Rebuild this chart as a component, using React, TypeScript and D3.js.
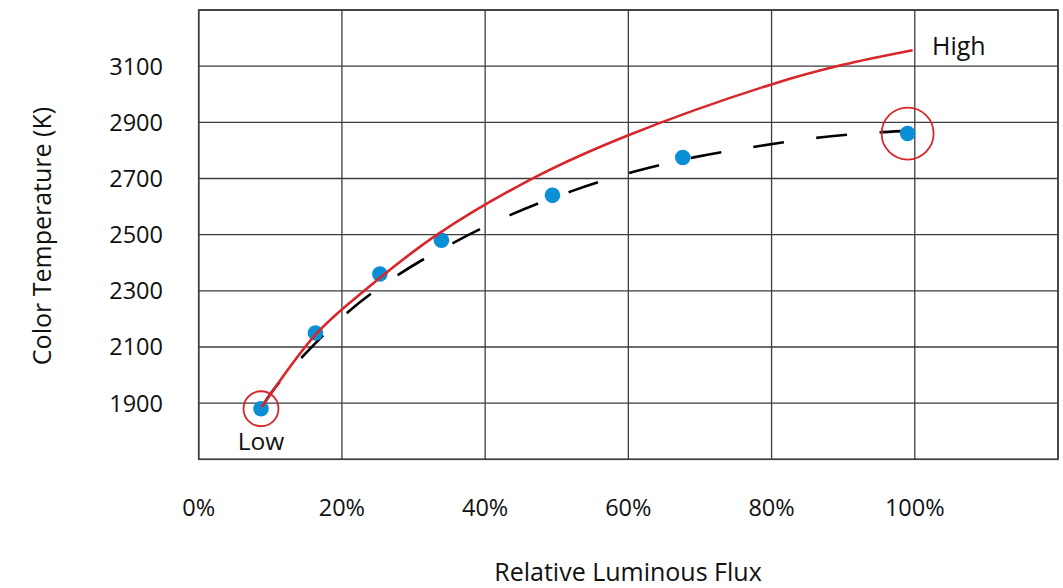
import React from "react";
import * as d3 from "d3";

// Measured data points (blue dots)
const fluxPct = [8.7, 16.3, 25.3, 33.9, 49.4, 67.6, 99.0];
const colorTempK = [1880, 2150, 2360, 2480, 2640, 2775, 2860];

// Red solid curve
const redX = [8.8, 16.5, 23.2, 33.3, 47.4, 60.0, 80.1, 89.8, 99.7];
const redY = [1886, 2149, 2302, 2500, 2710, 2854, 3036, 3104, 3157];

// Black dashed curve
const dashX = [8.8, 11.2, 20.7, 27.8, 35.5, 43.8, 52.1, 60.6, 69.3, 78.1, 87.0, 95.6, 100.5];
const dashY = [1886, 1972, 2221, 2356, 2470, 2573, 2655, 2723, 2776, 2815, 2847, 2865, 2872];

const xTicks = [0, 20, 40, 60, 80, 100];
const xGrid = [0, 20, 40, 60, 80, 100, 120];
const yTicks = [1900, 2100, 2300, 2500, 2700, 2900, 3100];

const xTitle = "Relative Luminous Flux";
const yTitle = "Color Temperature (K)";
const lowLabel = "Low";
const highLabel = "High";

const W = 1063;
const H = 588;
const L = 198.7, R = 1058, T = 10, B = 459.3;

export default function App() {
  const x = d3.scaleLinear().domain([0, 120]).range([L, R]);
  const y = d3.scaleLinear().domain([1700, 3300]).range([B, T]);
  const line = d3
    .line<[number, number]>()
    .x((d) => x(d[0]))
    .y((d) => y(d[1]))
    .curve(d3.curveCatmullRom.alpha(0.5));

  const redPts: [number, number][] = redX.map((v, i) => [v, redY[i]]);
  const dashPts: [number, number][] = dashX.map((v, i) => [v, dashY[i]]);
  const font = "'Open Sans', 'Noto Sans', sans-serif";
  const gridColor = "#3d3d3d";
  const red = "#d8262b";
  const blue = "#0a8ed5";

  const nLow = 0;
  const nHigh = fluxPct.length - 1;

  return (
    <svg
      width={W}
      height={H}
      style={{ position: "absolute", left: 0, top: 0, background: "#fff" }}
      fontFamily={font}
    >
      <rect x={0} y={0} width={W} height={H} fill="#fff" />
      {/* grid */}
      {xGrid.map((t) => (
        <line key={"gx" + t} x1={x(t)} x2={x(t)} y1={T} y2={B} stroke={gridColor} strokeWidth={1.3} />
      ))}
      {[1700, ...yTicks, 3300].map((t) => (
        <line key={"gy" + t} x1={L} x2={R} y1={y(t)} y2={y(t)} stroke={gridColor} strokeWidth={1.3} />
      ))}
      <rect x={L} y={T} width={R - L} height={B - T} fill="none" stroke={gridColor} strokeWidth={1.6} />

      {/* y tick labels */}
      {yTicks.map((t) => (
        <text key={"yt" + t} x={163} y={y(t)} dy="0.36em" textAnchor="end" fontSize={23.5} fill="#111">
          {t}
        </text>
      ))}
      {/* x tick labels */}
      {xTicks.map((t) => (
        <text key={"xt" + t} x={x(t)} y={515.5} textAnchor="middle" fontSize={23.5} fill="#111">
          {t + "%"}
        </text>
      ))}

      {/* titles */}
      <text x={628} y={581} textAnchor="middle" fontSize={25} fill="#111">
        {xTitle}
      </text>
      <text
        transform={`translate(51,236) rotate(-90)`}
        textAnchor="middle"
        fontSize={25}
        fill="#111"
      >
        {yTitle}
      </text>

      {/* dashed curve */}
      <path d={line(dashPts) || ""} fill="none" stroke="#000" strokeWidth={2.6} strokeDasharray="31 32.5" />

      {/* blue dots */}
      {fluxPct.map((v, i) => (
        <circle key={"p" + i} cx={x(v)} cy={y(colorTempK[i])} r={7.8} fill={blue} />
      ))}

      {/* red curve */}
      <path d={line(redPts) || ""} fill="none" stroke={red} strokeWidth={2.6} />

      {/* circles */}
      <circle cx={x(fluxPct[nLow])} cy={y(colorTempK[nLow])} r={17.5} fill="none" stroke={red} strokeWidth={1.8} />
      <circle cx={x(fluxPct[nHigh])} cy={y(colorTempK[nHigh])} r={26} fill="none" stroke={red} strokeWidth={1.8} />

      {/* annotations */}
      <text x={x(fluxPct[nLow])} y={450} textAnchor="middle" fontSize={24.5} fill="#111">
        {lowLabel}
      </text>
      <text x={932} y={55} fontSize={25} fill="#111">
        {highLabel}
      </text>
    </svg>
  );
}
